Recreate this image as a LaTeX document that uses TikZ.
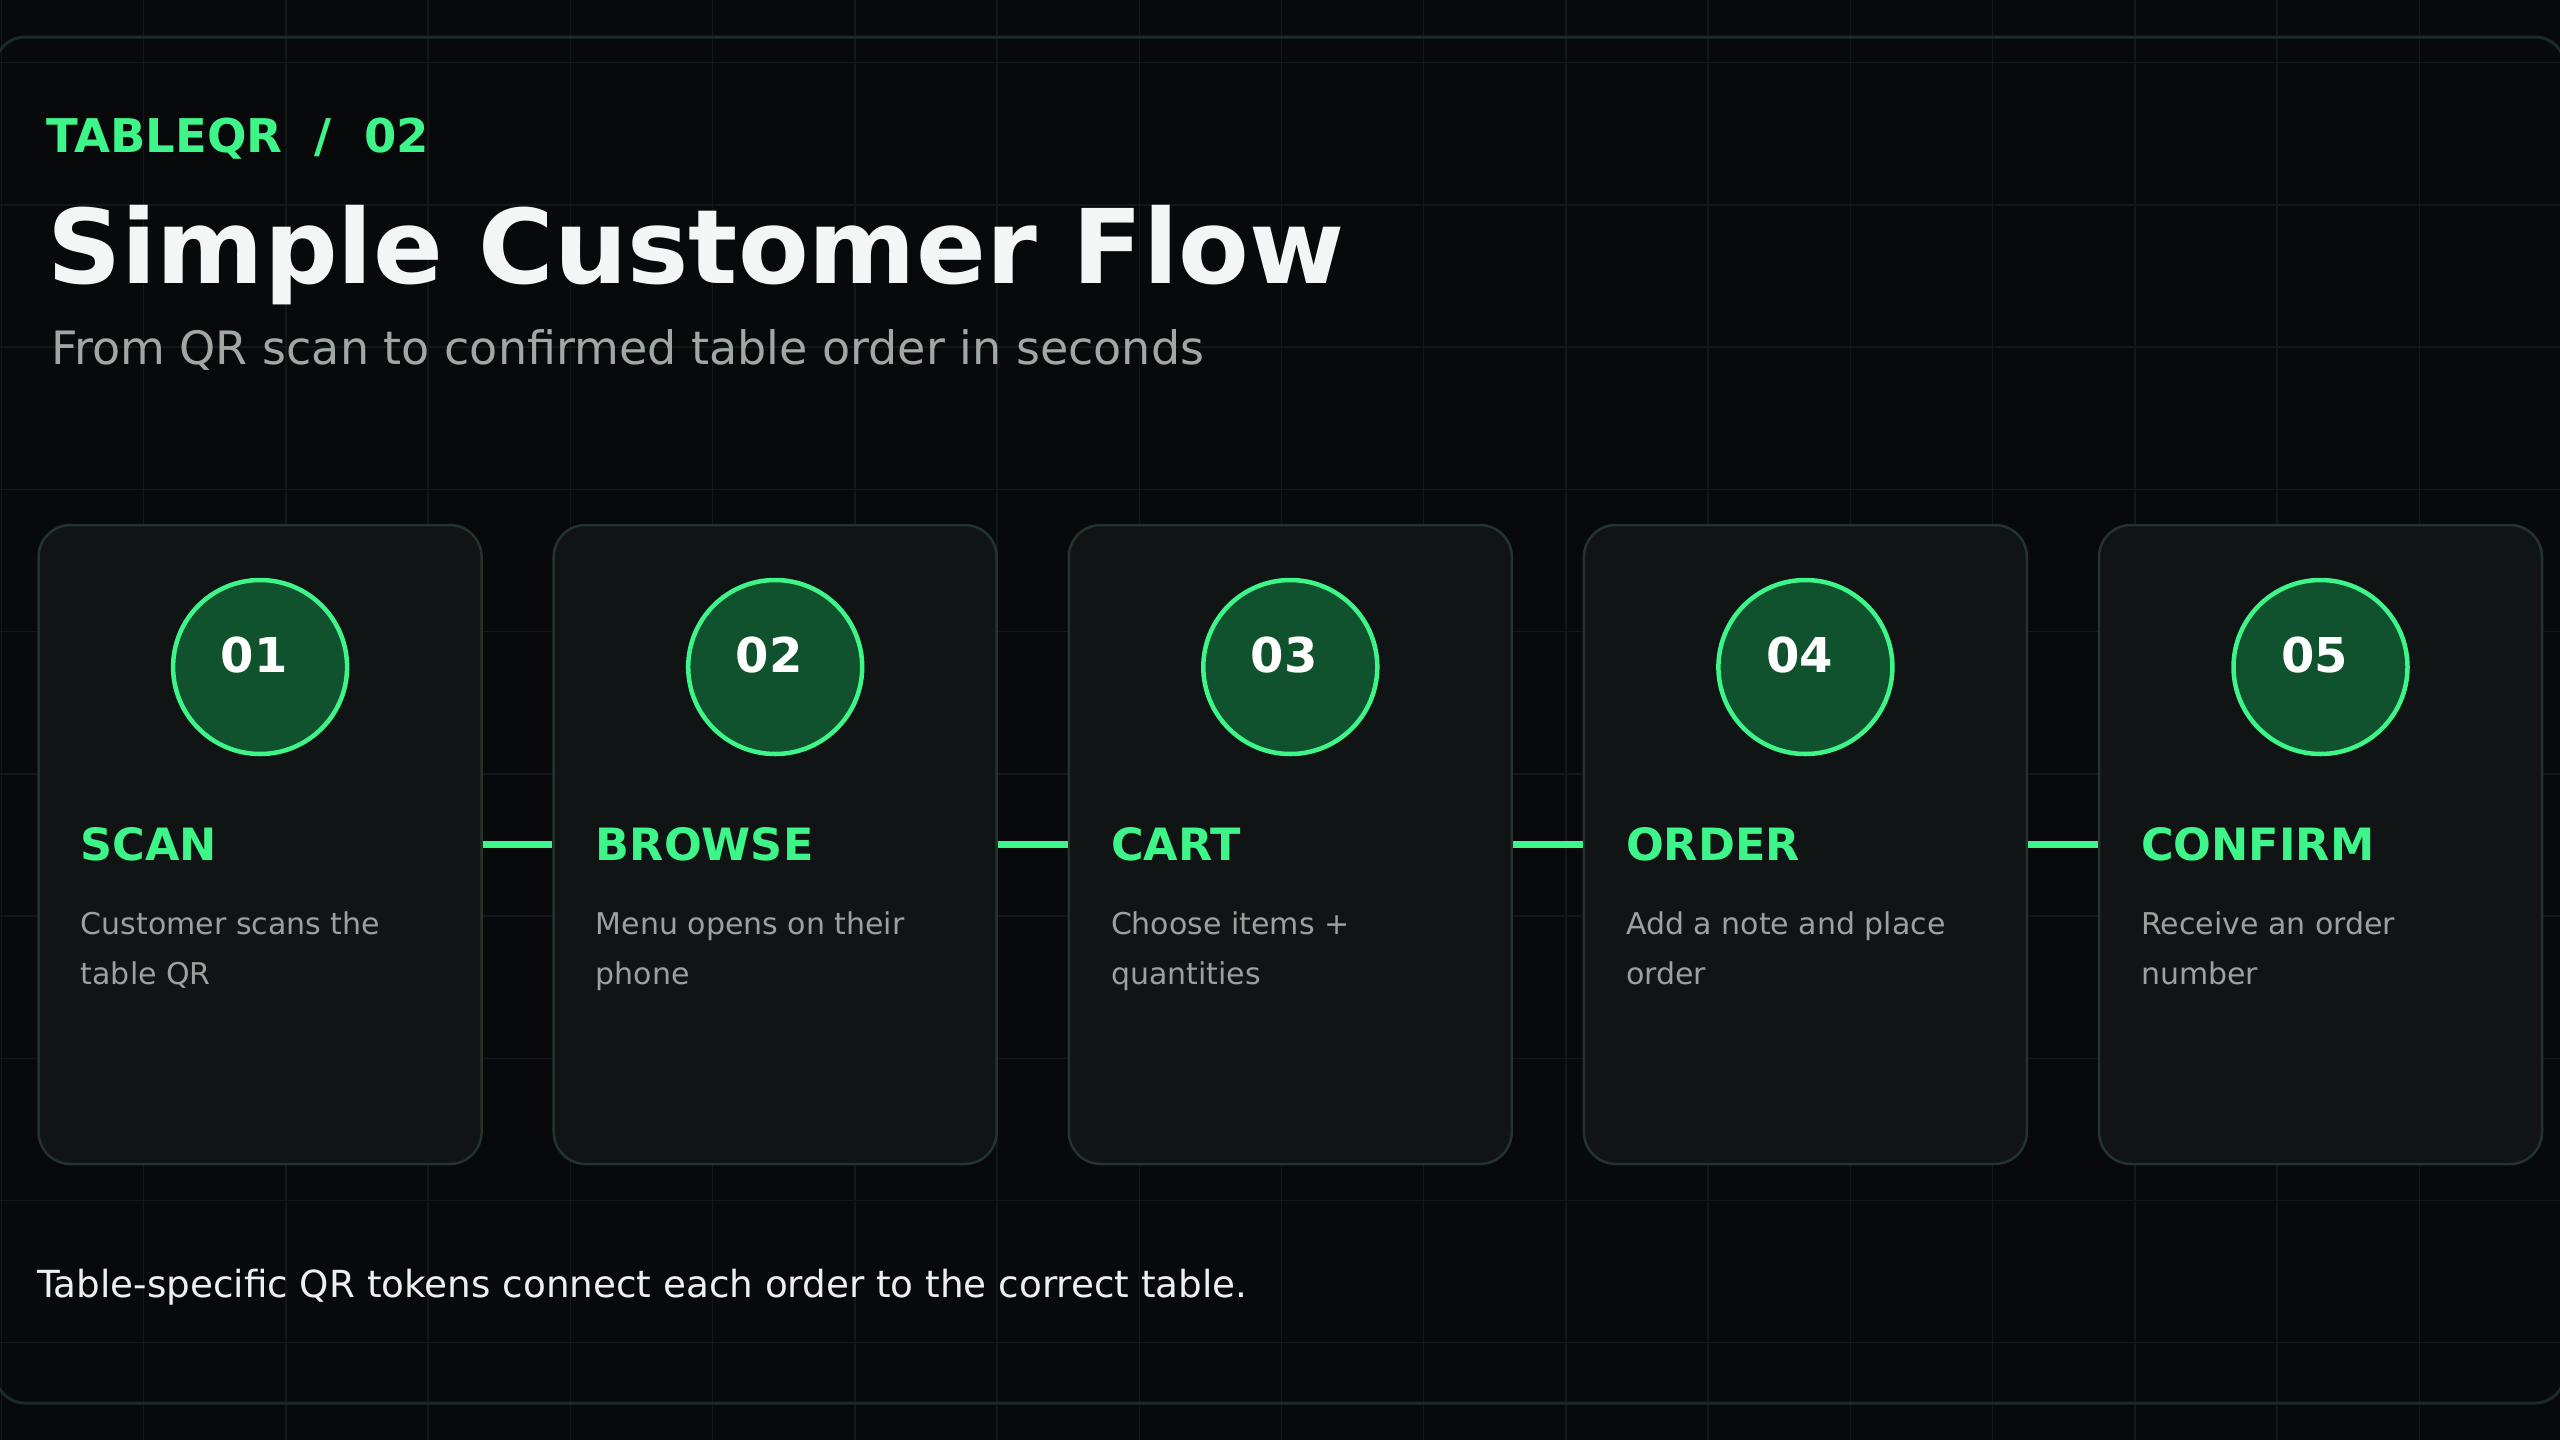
\documentclass[tikz,border=0pt]{standalone}
\usepackage{fontspec}
\setmainfont{DejaVu Sans}
\definecolor{bg}{HTML}{07090B}
\definecolor{gridc}{HTML}{111819}
\definecolor{panelline}{HTML}{1E2B24}
\definecolor{cardfill}{HTML}{101415}
\definecolor{cardline}{HTML}{24332B}
\definecolor{accent}{HTML}{3EF58A}
\definecolor{badgefill}{HTML}{10522D}
\definecolor{titlec}{HTML}{F4F6F5}
\definecolor{subc}{HTML}{A1A8A4}
\definecolor{descc}{HTML}{9AA19E}
\definecolor{footc}{HTML}{EEF0EF}
\begin{document}
\begin{tikzpicture}[x=1pt,y=-1pt,
  gridline/.style={draw=gridc, line width=1.5pt},
  panel/.style={draw=panelline, line width=3pt, rounded corners=30pt},
  card/.style={draw=cardline, fill=cardfill, line width=2.5pt, rounded corners=32pt,
    minimum width=443pt, minimum height=639pt, inner sep=0pt},
  badge/.style={circle, draw=accent, fill=badgefill, line width=4.5pt,
    minimum size=174pt, inner sep=0pt},
  numtxt/.style={anchor=base, inner sep=0pt, text=white, font=\fontsize{48}{58}\selectfont\bfseries},
  headtxt/.style={anchor=base west, inner sep=0pt, text=accent, font=\fontsize{44.5}{52}\selectfont\bfseries},
  desctxt/.style={anchor=base west, inner sep=0pt, text=descc, font=\fontsize{30}{50}\selectfont},
  conn/.style={draw=accent, line width=7pt}
]
\useasboundingbox (0,0) rectangle (2560,1440);
\fill[bg] (0,0) rectangle (2560,1440);
% grid
\foreach \k in {0,...,18} \draw[gridline] ({1.5+\k*142.22},0) -- ({1.5+\k*142.22},1440);
\foreach \k in {0,...,9} \draw[gridline] (0,{62.7+\k*142.22}) -- (2560,{62.7+\k*142.22});
% panel
\draw[panel] (-5,37) rectangle (2565,1403);
% header
\node[anchor=base west, inner sep=0pt, text=accent, font=\fontsize{46.5}{56}\selectfont\bfseries] (kicker) at (46,152) {TABLEQR\ \ /\ \ 02};
\node[anchor=base west, inner sep=0pt, text=titlec, font=\fontsize{103}{120}\selectfont\bfseries] (title) at (47,283) {Simple Customer Flow};
\node[anchor=base west, inner sep=0pt, text=subc, font=\fontsize{46}{54}\selectfont] (subtitle) at (51,364) {From QR scan to confirmed table order in seconds};
% cards
\foreach \i/\nm/\ttl/\da/\db in {
  1/01/SCAN/Customer scans the/table QR,
  2/02/BROWSE/Menu opens on their/phone,
  3/03/CART/Choose items +/quantities,
  4/04/ORDER/Add a note and place/order,
  5/05/CONFIRM/Receive an order/number}{
  \pgfmathsetmacro{\lx}{38.6+(\i-1)*515.1}
  \pgfmathsetmacro{\cx}{\lx+221.5}
  \node[card] (c\i) at (\cx,844.5) {};
  \node[badge] (b\i) at (\cx,667) {};
  \node[numtxt] (n\i) at (\cx-6,672) {\nm};
  \node[headtxt] (h\i) at (\lx+42,860) {\ttl};
  \node[desctxt] (d\i) at (\lx+42,934) {\parbox[t]{400pt}{\da\\\db}};
}
\foreach \i/\j in {1/2,2/3,3/4,4/5} \draw[conn] (c\i.east) -- (c\j.west);
% footer
\node[anchor=base west, inner sep=0pt, text=footc, font=\fontsize{37.3}{44}\selectfont] (footer) at (37,1297) {Table-specific QR tokens connect each order to the correct table.};
\end{tikzpicture}
\end{document}
